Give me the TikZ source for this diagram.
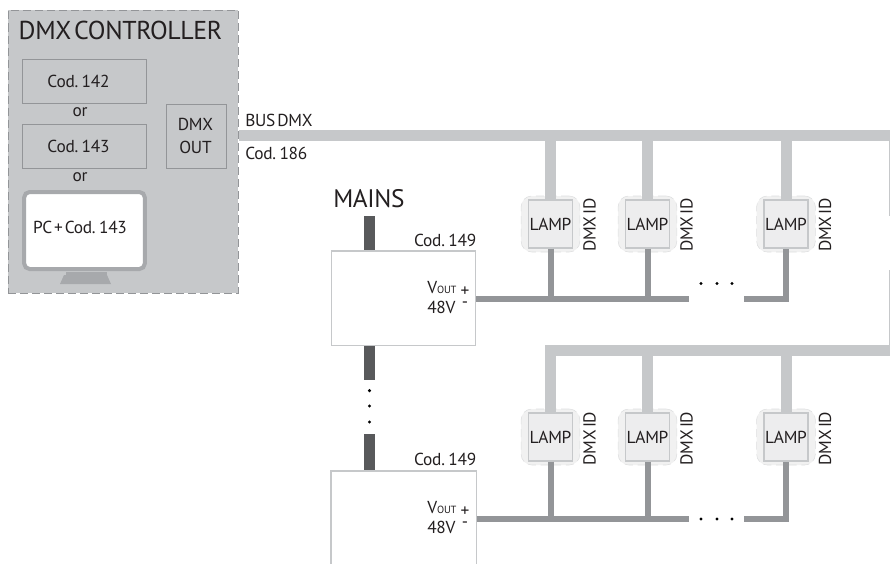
\documentclass[tikz,border=0pt]{standalone}
\usepackage{fontspec}
\setmainfont{PT Sans}[WordSpace=0.45,LetterSpace=-1.5]
\usetikzlibrary{positioning}
\definecolor{busgray}{HTML}{C6C8CA}
\definecolor{wiregray}{HTML}{939598}
\definecolor{pcgray}{HTML}{A7A9AC}
\definecolor{mainsgray}{HTML}{58595B}
\definecolor{lampgray}{HTML}{EDEDEE}
\definecolor{textgray}{HTML}{231F20}
\tikzset{
  bus/.style={draw=busgray,line width=8.25pt,line join=miter},
  wire/.style={draw=wiregray,line width=4.5pt,line join=miter},
  mains/.style={draw=mainsgray,line width=8.25pt},
  codbox/.style={draw=wiregray,line width=0.6pt,minimum width=93.4pt,minimum height=33pt,inner sep=0pt},
  psu/.style={draw=busgray,line width=1.1pt,fill=white},
  lampback/.style={draw=busgray!60,dashed,dash pattern=on 6pt off 3.5pt,line width=0.4pt,fill=lampgray!80,rounded corners=8pt,minimum width=44pt,minimum height=42pt,inner sep=0pt},
  lampbox/.style={draw=busgray,line width=1.1pt,fill=lampgray,minimum width=33pt,minimum height=36pt,inner sep=0pt,font=\fontsize{13}{13}\selectfont},
  dmxid/.style={rotate=90,font=\fontsize{13}{13}\selectfont,inner sep=0pt},
  txt/.style={inner sep=0pt,font=\fontsize{13}{13}\selectfont},
  plusminus/.style={inner sep=0pt,align=center,font=\fontsize{13}{8.5}\selectfont},
  dotdot/.style={fill=black,circle,inner sep=0pt,minimum size=2.6pt}
}
\begin{document}
\begin{tikzpicture}[x=0.75pt,y=-0.75pt,every node/.append style={text=textgray}]
    \useasboundingbox (0,0) rectangle (890,564);

    % controller
    \node[draw=wiregray,dashed,dash pattern=on 6pt off 3pt,line width=0.5pt,fill=busgray,minimum width=172.5pt,minimum height=212pt,inner sep=0pt] (ctrl) at (123,151.5) {};
    \node[txt,font=\fontsize{19.4}{19.4}\selectfont] (ctrlname) at (120.5,30) {DMX CONTROLLER};
    \node[codbox] (c142) at (84.5,81.5) {};
    \node[txt] (c142t) at (78.5,81.5) {Cod. 142};
    \node[txt] (or1) at (80,112.5) {or};
    \node[codbox] (c143) at (84.5,146.5) {};
    \node[txt] (c143t) at (78.5,146.5) {Cod. 143};
    \node[txt] (or2) at (80,177.5) {or};
    \node[draw=wiregray,line width=0.6pt,minimum width=45pt,minimum height=48pt,inner sep=0pt] (dmxout) at (196,136) {};
    \node[txt,align=center,font=\fontsize{13}{17}\selectfont] (dmxoutt) at (195.5,136) {DMX\\OUT};

    % monitor
    \node[draw=pcgray,line width=3pt,fill=white,rounded corners=4pt,minimum width=90.4pt,minimum height=57.75pt,inner sep=0pt] (pc) at (84.5,230.5) {};
    \node[txt] (pct) at (80,227) {PC + Cod. 143};
    \fill[pcgray] (66,272) rectangle (107,275);
    \fill[pcgray] (64,275) -- (107,275) -- (111,284) -- (60,284) -- cycle;

    % bus
    \coordinate (bus1) at (239,135.5);
    \coordinate (bus2) at (890,135.5);
    \draw[bus] (bus1) -- (bus2);
    \node[txt,anchor=west] (busname) at (245,120) {BUS DMX};
    \node[txt,anchor=west] (buscod) at (245,153) {Cod. 186};
    % right edge of the bus
    \coordinate (e1) at (889.5,141);
    \coordinate (e2) at (889.5,216);
    \coordinate (e3) at (889.5,270);
    \coordinate (e4) at (889.5,345);
    \draw[busgray,line width=0.75pt] (e1) -- (e2);
    \draw[busgray,line width=0.75pt] (e3) -- (e4);

    % mains
    \node[txt,font=\fontsize{19}{19}\selectfont,anchor=west] (mainsname) at (333,199) {MAINS};
    \node[psu,minimum width=108pt,minimum height=71pt,inner sep=0pt] (psu1) at (403.75,298.25) {};
    \coordinate (m1) at (369.5,216);
    \coordinate (m2) at (369.5,379.5);
    \coordinate (m3) at (369.5,434);
    \coordinate (p2a) at (331,564);
    \coordinate (p2b) at (331,471);
    \coordinate (p2c) at (476.5,471);
    \coordinate (p2d) at (476.5,564);
    \draw[mains] (m1) -- (psu1.north -| m1);
    \draw[mains] (psu1.south -| m1) -- (m2);
    \draw[mains] (m3) -- (p2b -| m3);
    \draw[psu] (p2a) -- (p2b) -- (p2c) -- (p2d);
    \node[dotdot] (vd1) at (369.5,390.7) {};
    \node[dotdot] (vd2) at (369.5,406) {};
    \node[dotdot] (vd3) at (369.5,422) {};
    \node[txt,anchor=east] (cod1) at (476.5,240) {Cod. 149};
    \node[txt,anchor=east] (cod2) at (476.5,459) {Cod. 149};
    \node[txt,anchor=west] (vout1) at (427,288) {V{\fontsize{7.8}{7.8}\selectfont OUT}};
    \node[txt,anchor=west] (v48a) at (427,307.5) {48V};
    \node[plusminus] (pm1) at (465,297) {+\\-};
    \node[txt,anchor=west] (vout2) at (427,508) {V{\fontsize{7.8}{7.8}\selectfont OUT}};
    \node[txt,anchor=west] (v48b) at (427,527.5) {48V};
    \node[plusminus] (pm2) at (465,517) {+\\-};

    % upper lamps
    \node[lampback] (la1b) at (550.5,224) {};
    \node[lampback] (la2b) at (647.5,224) {};
    \node[lampback] (la3b) at (786,224) {};
    \node[lampbox] (la1) at (550.5,224) {LAMP};
    \node[lampbox] (la2) at (647.5,224) {LAMP};
    \node[lampbox] (la3) at (786,224) {LAMP};
    \node[dmxid] (ida1) at (589.5,225) {DMX ID};
    \node[dmxid] (ida2) at (686.5,225) {DMX ID};
    \node[dmxid] (ida3) at (825,225) {DMX ID};
    \draw[bus] (la1.north |- bus1) -- (la1.north);
    \draw[bus] (la2.north |- bus1) -- (la2.north);
    \draw[bus] (la3.north |- bus1) -- (la3.north);
    \coordinate (wa1) at (689,299);
    \coordinate (wa2) at (744,299);
    \draw[wire] (psu1.east |- wa1) -- (wa1);
    \draw[wire] (la1.south) -- (la1.south |- wa1);
    \draw[wire] (la2.south) -- (la2.south |- wa1);
    \draw[wire] (wa2) -- (wa2 -| la3.south) -- (la3.south);
    \node[dotdot] (hda1) at (701,283.5) {};
    \node[dotdot] (hda2) at (717,283.5) {};
    \node[dotdot] (hda3) at (732,283.5) {};

    % lower lamps
    \node[lampback] (lb1b) at (550.5,437) {};
    \node[lampback] (lb2b) at (647.5,437) {};
    \node[lampback] (lb3b) at (786,437) {};
    \node[lampbox] (lb1) at (550.5,437) {LAMP};
    \node[lampbox] (lb2) at (647.5,437) {LAMP};
    \node[lampbox] (lb3) at (786,437) {LAMP};
    \node[dmxid] (idb1) at (589.5,438.5) {DMX ID};
    \node[dmxid] (idb2) at (686.5,438.5) {DMX ID};
    \node[dmxid] (idb3) at (825,438.5) {DMX ID};
    \coordinate (bus3) at (890,350.5);
    \draw[bus] (bus3) -- (bus3 -| lb1.north) -- (lb1.north);
    \draw[bus] (lb2.north |- bus3) -- (lb2.north);
    \draw[bus] (lb3.north |- bus3) -- (lb3.north);
    \coordinate (wb1) at (689,519);
    \coordinate (wb2) at (744,519);
    \draw[wire] (p2c |- wb1) -- (wb1);
    \draw[wire] (lb1.south) -- (lb1.south |- wb1);
    \draw[wire] (lb2.south) -- (lb2.south |- wb1);
    \draw[wire] (wb2) -- (wb2 -| lb3.south) -- (lb3.south);
    \node[dotdot] (hdb1) at (701,519) {};
    \node[dotdot] (hdb2) at (717,519) {};
    \node[dotdot] (hdb3) at (732,519) {};
  \end{tikzpicture}
\end{document}
